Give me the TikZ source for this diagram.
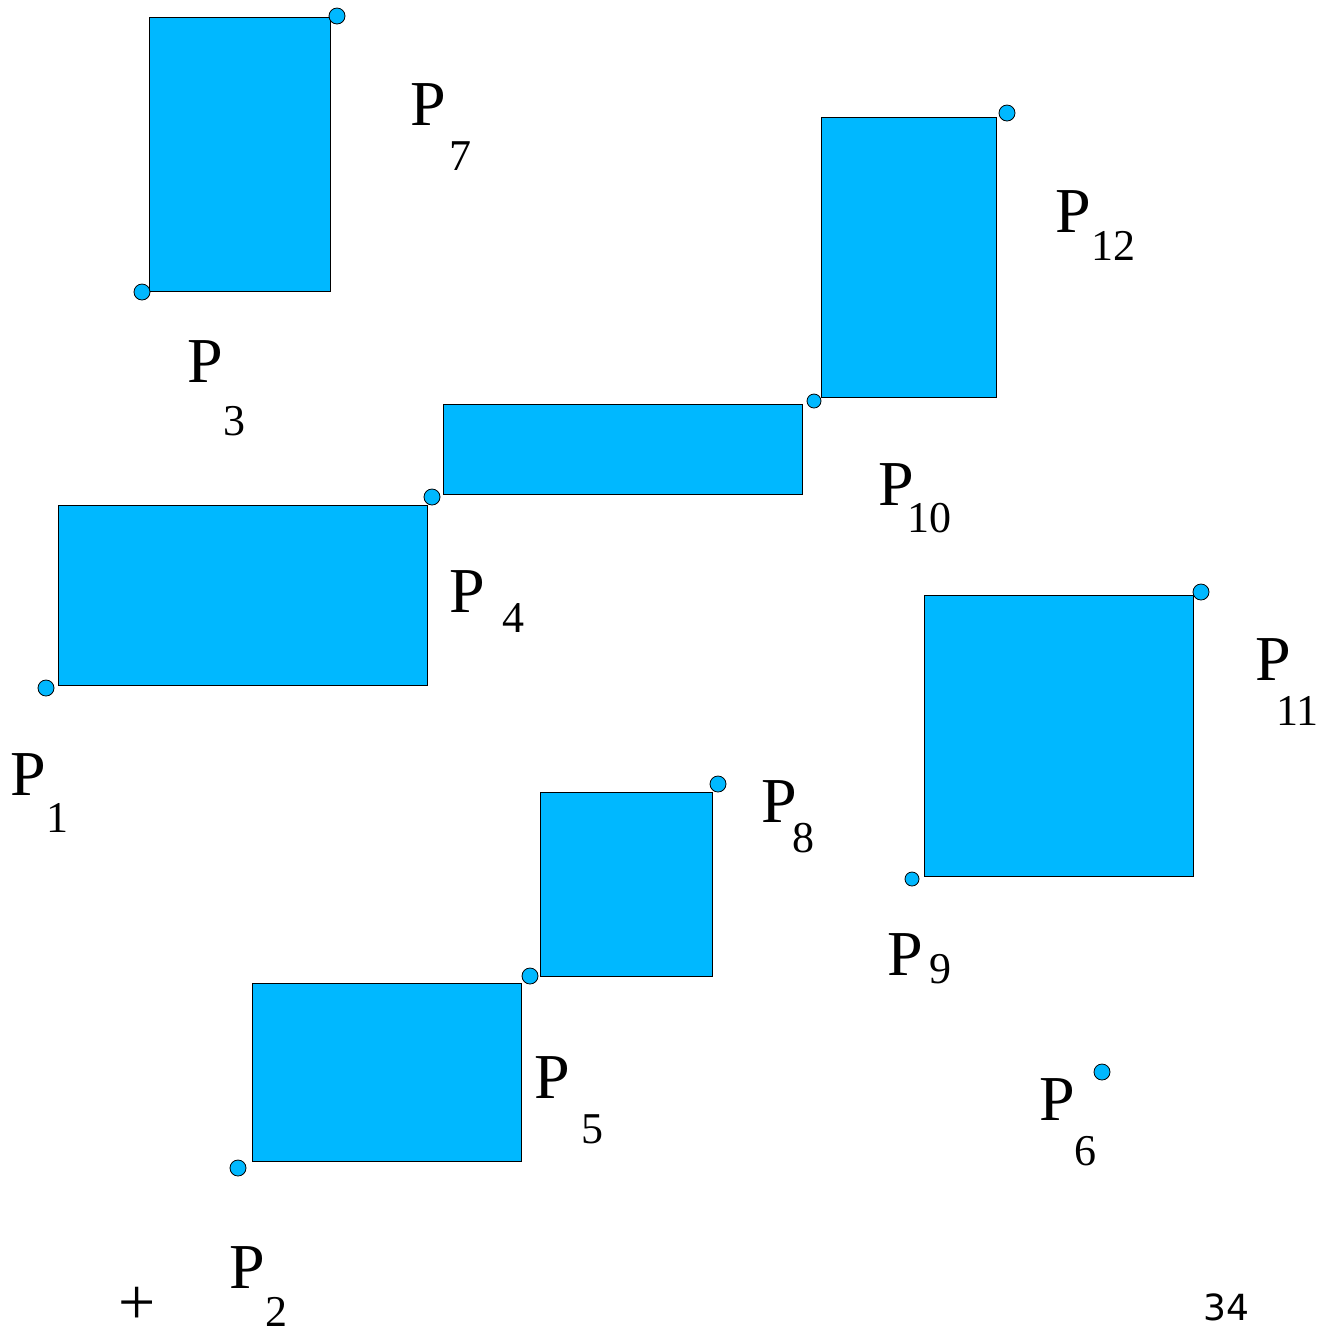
\documentclass[tikz,border=0pt]{standalone}
\usepackage{fontspec}
\setmainfont{Liberation Serif}
\newfontfamily\pagefont{DejaVu Sans}
\usetikzlibrary{positioning}
\definecolor{boxblue}{HTML}{00B8FF}
\tikzset{
    rectbox/.style={fill=boxblue,draw=black,line width=0.5pt},
    cornerdot/.style={circle,draw=black,fill=boxblue,line width=0.4pt,inner sep=0pt,minimum size=8pt},
    smalldot/.style={cornerdot,minimum size=7pt},
    plabel/.style={anchor=base west,inner sep=0pt,font=\fontsize{32}{36}\selectfont},
    pindex/.style={anchor=base west,inner sep=0pt,font=\fontsize{22}{26}\selectfont}
}

\begin{document}
\begin{tikzpicture}[x=0.5pt,y=-0.5pt]
\useasboundingbox (0,0) rectangle (1331,1335);

% blocks
\filldraw[rectbox] (149,17) rectangle (330,291);
\filldraw[rectbox] (821,117) rectangle (996,397);
\filldraw[rectbox] (443,404) rectangle (802,494);
\filldraw[rectbox] (58,505) rectangle (427,685);
\filldraw[rectbox] (924,595) rectangle (1193,876);
\filldraw[rectbox] (540,792) rectangle (712,976);
\filldraw[rectbox] (252,983) rectangle (521,1161);

% corner points
\node[cornerdot] (d1) at (46,688) {};
\node[cornerdot] (d2) at (238,1168) {};
\node[cornerdot] (d3) at (142,292) {};
\node[cornerdot] (d4) at (432,497) {};
\node[cornerdot] (d5) at (530,976) {};
\node[cornerdot] (d6) at (1102,1072) {};
\node[cornerdot] (d7) at (337,16) {};
\node[cornerdot] (d8) at (718,784) {};
\node[smalldot] (d9) at (912,879) {};
\node[smalldot] (d10) at (814,401) {};
\node[cornerdot] (d11) at (1201,592) {};
\node[cornerdot] (d12) at (1007,113) {};

% labels
\node[plabel] (l1) at (10,795) {P};
\node[pindex] (i1) at (46,832) {1};
\node[plabel] (l2) at (229,1288) {P};
\node[pindex] (i2) at (265,1326) {2};
\node[plabel] (l3) at (187,382) {P};
\node[pindex] (i3) at (223,435) {3};
\node[plabel] (l4) at (449,612) {P};
\node[pindex] (i4) at (502,632) {4};
\node[plabel] (l5) at (534,1098) {P};
\node[pindex] (i5) at (581,1143) {5};
\node[plabel] (l6) at (1039,1120) {P};
\node[pindex] (i6) at (1074,1165) {6};
\node[plabel] (l7) at (410,125) {P};
\node[pindex] (i7) at (449,170) {7};
\node[plabel] (l8) at (761,822) {P};
\node[pindex] (i8) at (792,852) {8};
\node[plabel] (l9) at (887,975) {P};
\node[pindex] (i9) at (929,983) {9};
\node[plabel] (l10) at (878,505) {P};
\node[pindex] (i10) at (907,532) {10};
\node[plabel] (l11) at (1255,680) {P};
\node[pindex] (i11) at (1276,725) {11};
\node[plabel] (l12) at (1055,232) {P};
\node[pindex] (i12) at (1091,260) {12};

% origin mark and page number
\node[font=\fontsize{33}{36}\selectfont,anchor=base,inner sep=0pt,text depth=0pt] (orig) at (137,1324) {+};
\node[font=\pagefont\fontsize{18}{21}\selectfont,anchor=base west,inner sep=0pt] (pg) at (1203,1320) {34};
\end{tikzpicture}
\end{document}
